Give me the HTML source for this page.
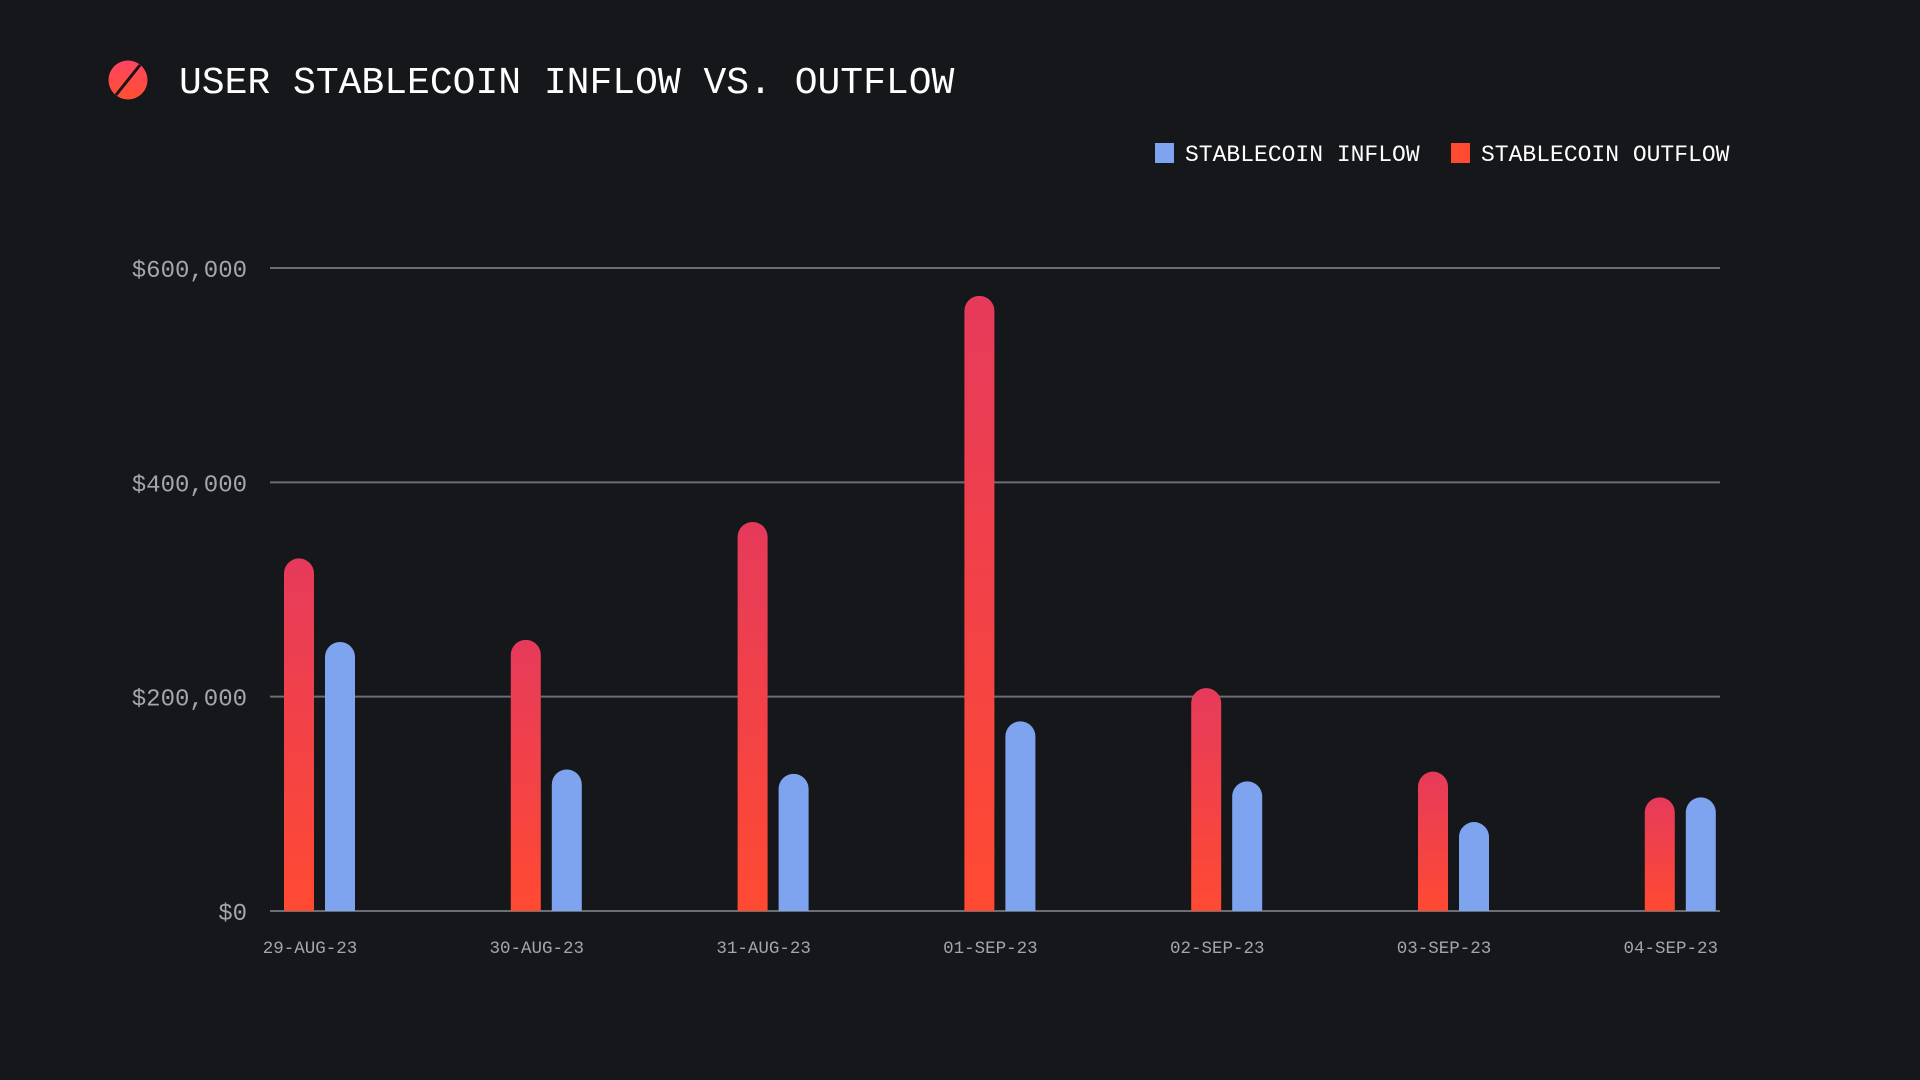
<!DOCTYPE html>
<html><head><meta charset="utf-8"><style>
html,body{margin:0;padding:0;background:#16171b;}
svg{display:block;font-family:"Liberation Mono",monospace;}
</style></head><body>
<svg id="chart" width="1920" height="1080" viewBox="0 0 1920 1080">
<defs>
<linearGradient id="redg" x1="0" y1="0" x2="0" y2="1"><stop offset="0" stop-color="#e63a5b"/><stop offset="1" stop-color="#ff4a32"/></linearGradient>
<linearGradient id="logog" x1="0" y1="0" x2="0" y2="1"><stop offset="0" stop-color="#ff4462"/><stop offset="1" stop-color="#ff5030"/></linearGradient>
</defs>
<rect width="1920" height="1080" fill="#16171b"/>
<g>
<circle cx="128" cy="80" r="19.5" fill="url(#logog)"/>
<line x1="116" y1="95" x2="140" y2="65" stroke="#16171b" stroke-width="3"/>
</g>
<text x="179" y="93" font-size="38" fill="#ffffff">USER STABLECOIN INFLOW VS. OUTFLOW</text>
<g>
<g><rect x="1155" y="143" width="19" height="20" fill="#7fa4ef"/><text x="1185" y="161" font-size="23" fill="#ffffff">STABLECOIN INFLOW</text></g>
<g><rect x="1451" y="143" width="19" height="20" fill="#ff4a32"/><text x="1481" y="161" font-size="23" fill="#ffffff">STABLECOIN OUTFLOW</text></g>
</g>
<g id="grid"></g><g id="bars"></g><g id="labels"></g>
</svg>
<script>
const categories = ["29-AUG-23","30-AUG-23","31-AUG-23","01-SEP-23","02-SEP-23","03-SEP-23","04-SEP-23"];
const outflow = [329000,253000,363000,574000,208000,130000,106000];
const inflow = [251000,132000,128000,177000,121000,83000,106000];
const yTicks = [0,200000,400000,600000];
const yTickLabels = ["$0","$200,000","$400,000","$600,000"];

const NS="http://www.w3.org/2000/svg";
const x0=270, x1=1720, y0=911, yTop=268, yMax=600000;
const y = v => y0 - v/yMax*(y0-yTop);
const firstC=310, step=226.8;
const xc = i => firstC + i*step;
function mk(tag,attrs,parent){const e=document.createElementNS(NS,tag);for(const k in attrs)e.setAttribute(k,attrs[k]);parent.appendChild(e);return e;}
const grid=document.getElementById('grid'), bars=document.getElementById('bars'), labels=document.getElementById('labels');
yTicks.forEach((t,i)=>{
  const l=mk('line',{x1:x0,x2:x1,y1:y(t),y2:y(t),stroke:'#6b6e75','stroke-width':2},grid);
  
  
  const tx=mk('text',{x:247,y:y(t)+9,'font-size':24,fill:'#a3a6ad','text-anchor':'end'},labels);
  tx.textContent=yTickLabels[i];
  
  
});
const bw=30, r=15;
function barPath(x,top,w){const h=y0-top;const rr=Math.min(r,h/2);return `M${x},${y0} L${x},${top+rr} A${rr},${rr} 0 0 1 ${x+w},${top+rr} L${x+w},${y0} Z`;}
categories.forEach((c,i)=>{
  const cx=xc(i)+10;
  const rb=mk('path',{d:barPath(cx-36,y(outflow[i]),bw),fill:'url(#redg)'},bars);
  
  
  const bb=mk('path',{d:barPath(cx+5,y(inflow[i]),bw),fill:'#7fa4ef'},bars);
  
  
  const tx=mk('text',{x:xc(i),y:953,'font-size':17.5,fill:'#a3a6ad','text-anchor':'middle'},labels);
  tx.textContent=c;
  
  
});
</script>
</body></html>
